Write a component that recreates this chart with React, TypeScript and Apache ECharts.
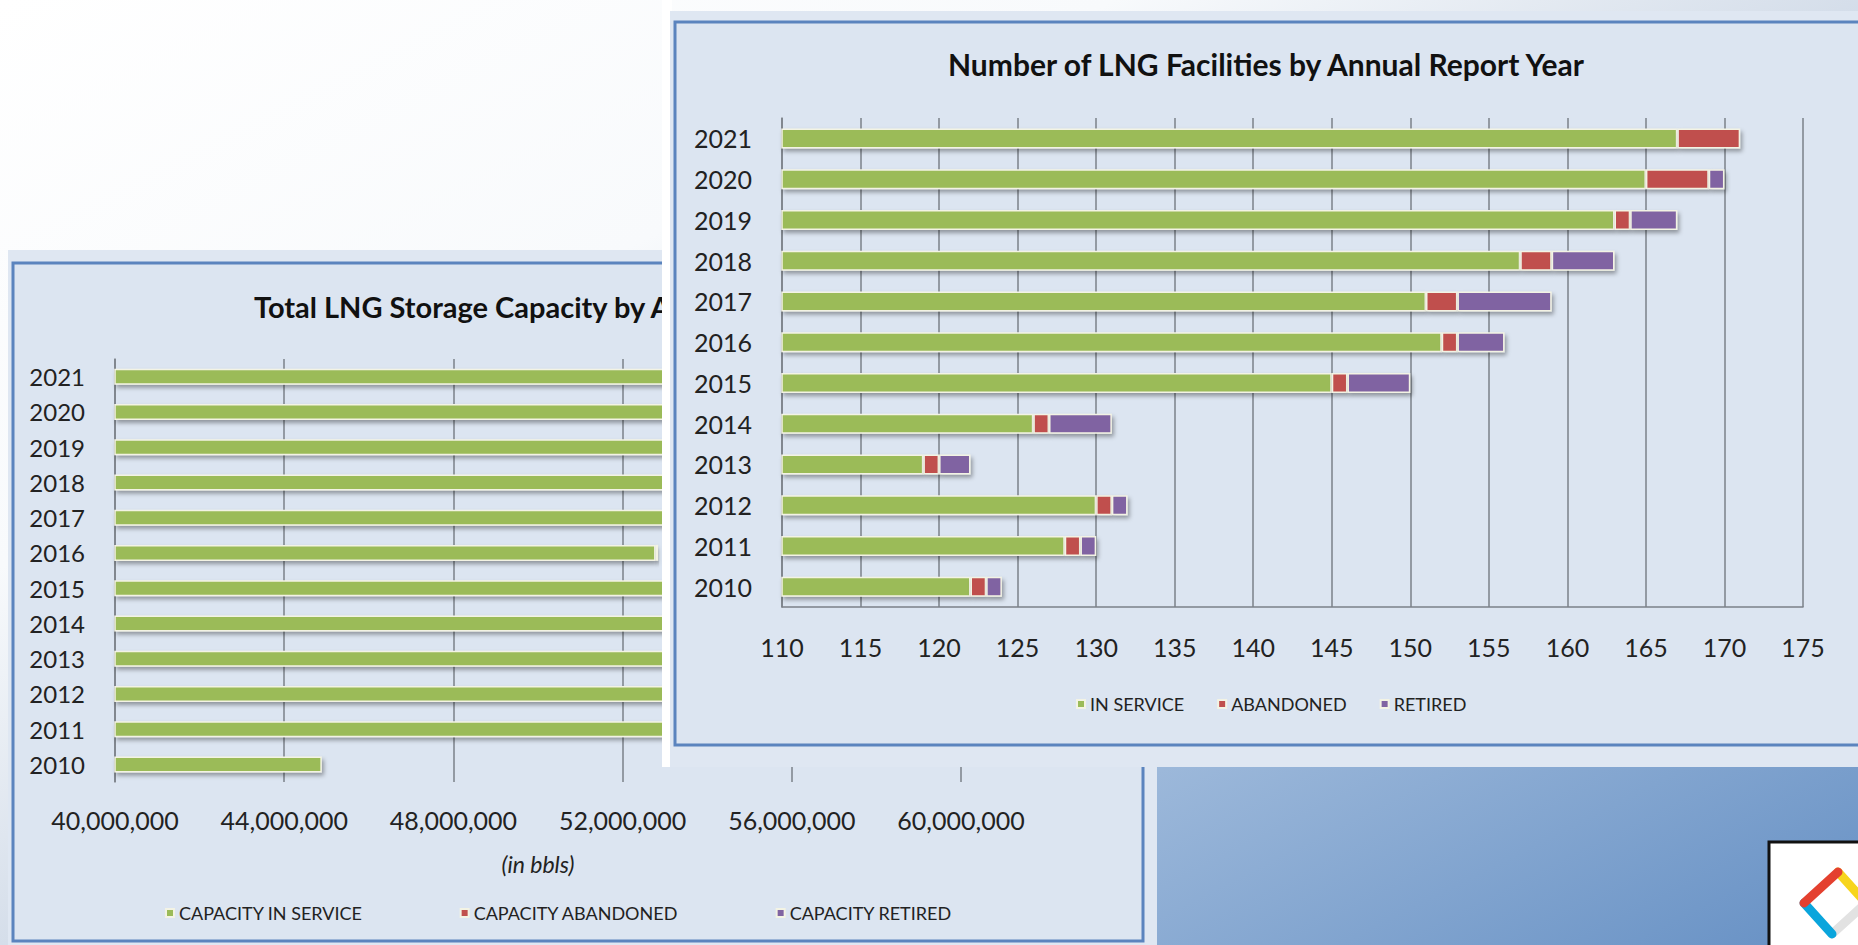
import React, { useEffect, useRef } from 'react';
import * as echarts from 'echarts';

// ---------- data ----------
const years = ['2010', '2011', '2012', '2013', '2014', '2015', '2016', '2017', '2018', '2019', '2020', '2021'];

// Right chart: Number of LNG Facilities by Annual Report Year
const facilityInService = [122, 128, 130, 119, 126, 145, 152, 151, 157, 163, 165, 167];
const facilityAbandoned = [1, 1, 1, 1, 1, 1, 1, 2, 2, 1, 4, 4];
const facilityRetired = [1, 1, 1, 2, 4, 4, 3, 6, 4, 3, 1, 0];
const facilityLegend = ['IN SERVICE', 'ABANDONED', 'RETIRED'];

// Left chart: Total LNG Storage Capacity (bbls) — bars past ~53M are hidden under the right chart (estimated)
const capacityInService = [44890000, 56100000, 56300000, 56250000, 56600000, 57100000, 52780000, 57800000, 58200000, 58600000, 59000000, 59300000];
const capacityAbandoned = [0, 150000, 150000, 150000, 150000, 150000, 0, 150000, 150000, 150000, 150000, 150000];
const capacityRetired = [0, 100000, 100000, 100000, 100000, 100000, 60000, 100000, 100000, 100000, 100000, 100000];
const capacityLegend = ['CAPACITY IN SERVICE', 'CAPACITY ABANDONED', 'CAPACITY RETIRED'];

const rightTitle = 'Number of LNG Facilities by Annual Report Year';
const leftTitle = 'Total LNG Storage Capacity by Annual Report Year';
const leftAxisName = '(in bbls)';

const W = 1858;
const H = 945;
const FONT = 'Lato, "Open Sans", sans-serif';
const GREEN = '#9bbb59';
const RED = '#c0504d';
const PURPLE = '#8064a2';
const PANEL = '#dce5f1';
const BORDER = '#5b84be';
const GRIDC = '#7b8088';
const TXT = '#222222';

const barStyle = (color: string) => ({
  color,
  borderColor: '#f3f3e4',
  borderWidth: 1.5,
  shadowColor: 'rgba(0,0,0,0.35)',
  shadowBlur: 4,
  shadowOffsetX: 2,
  shadowOffsetY: 3,
});

export default function App() {
  const ref = useRef<HTMLDivElement>(null);
  useEffect(() => {
    if (!ref.current) return;
    const chart = echarts.init(ref.current, undefined, { renderer: 'svg' });

    const graphics: any[] = [
      {
        type: 'rect', z: -100, silent: true,
        shape: { x: 0, y: 0, width: W, height: H },
        style: {
          fill: new echarts.graphic.LinearGradient(0, 0, 1, 1, [
            { offset: 0, color: '#ffffff' },
            { offset: 0.3, color: '#f8fafc' },
            { offset: 0.5, color: '#d5deea' },
            { offset: 0.72, color: '#9cb8da' },
            { offset: 1, color: '#6690c4' },
          ]),
        },
      },
      // left panel
      { type: 'rect', z: -90, silent: true, shape: { x: 8, y: 250, width: 1149, height: 700 }, style: { fill: '#dfe7f2' } },
      { type: 'rect', z: -89, silent: true, shape: { x: 13, y: 263, width: 1130, height: 678 }, style: { fill: PANEL, stroke: BORDER, lineWidth: 3 } },
      {
        type: 'text', z: -80, silent: true, x: 254, y: 306,
        style: {
          text: leftTitle, fill: '#111', fontSize: 29, fontWeight: 'bold', fontFamily: FONT,
          align: 'left', verticalAlign: 'middle', width: 430, overflow: 'truncate', ellipsis: '',
        },
      },
      // right panel (covers the left chart)
      { type: 'rect', z: 50, silent: true, shape: { x: 662, y: 0, width: 10, height: 767 }, style: { fill: '#ffffff' } },
      { type: 'rect', z: 50, silent: true, shape: { x: 670, y: 11, width: 1188, height: 756 }, style: { fill: '#dfe7f2' } },
      { type: 'rect', z: 51, silent: true, shape: { x: 675, y: 22, width: 1200, height: 723 }, style: { fill: PANEL, stroke: BORDER, lineWidth: 3 } },
      {
        type: 'text', z: 60, silent: true, x: 1266, y: 64,
        style: { text: rightTitle, fill: '#111', fontSize: 30, fontWeight: 'bold', fontFamily: FONT, align: 'center', verticalAlign: 'middle' },
      },
      // logo box
      { type: 'rect', z: 52, silent: true, shape: { x: 1769, y: 842, width: 100, height: 110 }, style: { fill: '#ffffff', stroke: '#111111', lineWidth: 3 } },
      { type: 'line', z: 53, silent: true, shape: { x1: 1832, y1: 934, x2: 1866, y2: 903 }, style: { stroke: '#e2e2e2', lineWidth: 9, lineCap: 'round' } },
      { type: 'line', z: 53, silent: true, shape: { x1: 1838, y1: 872, x2: 1866, y2: 903 }, style: { stroke: '#f7d51d', lineWidth: 9, lineCap: 'round' } },
      { type: 'line', z: 54, silent: true, shape: { x1: 1804, y1: 903, x2: 1832, y2: 934 }, style: { stroke: '#0aa5dc', lineWidth: 9, lineCap: 'round' } },
      { type: 'line', z: 55, silent: true, shape: { x1: 1804, y1: 903, x2: 1838, y2: 872 }, style: { stroke: '#e4402f', lineWidth: 9, lineCap: 'round' } },
    ];

    const axisLabel = (size: number, margin: number, fmt?: (v: number) => string) => ({
      fontSize: size, color: TXT, fontFamily: FONT, margin, formatter: fmt,
    });

    chart.setOption({
      animation: false,
      backgroundColor: 'transparent',
      graphic: { elements: graphics },
      grid: [
        { left: 115, top: 359, width: 846, height: 423, z: 0 },
        { left: 782, top: 118, width: 1021, height: 489, z: 60 },
      ],
      legend: [
        {
          data: capacityLegend, left: 160, top: 899, z: 4,
          icon: 'rect', itemWidth: 8, itemHeight: 8, itemGap: 97,
          textStyle: { fontSize: 18, color: TXT, fontFamily: FONT },
        },
        {
          data: facilityLegend, left: 1071, top: 690, z: 60,
          icon: 'rect', itemWidth: 8, itemHeight: 8, itemGap: 33,
          textStyle: { fontSize: 18, color: TXT, fontFamily: FONT },
        },
      ],
      xAxis: [
        {
          type: 'value', gridIndex: 0, min: 40000000, max: 60000000, interval: 4000000, z: 0,
          name: leftAxisName, nameLocation: 'middle', nameGap: 70,
          nameTextStyle: { fontSize: 23, fontStyle: 'italic', color: TXT, fontFamily: FONT },
          axisLine: { show: false }, axisTick: { show: false },
          splitLine: { show: true, lineStyle: { color: GRIDC, width: 1.5 } },
          axisLabel: axisLabel(25, 25, (v: number) => v.toLocaleString('en-US')),
        },
        {
          type: 'value', gridIndex: 1, min: 110, max: 175, interval: 5, z: 60,
          axisLine: { show: true, lineStyle: { color: GRIDC, width: 1.5 } }, axisTick: { show: false },
          splitLine: { show: true, lineStyle: { color: GRIDC, width: 1.5 } },
          axisLabel: axisLabel(25, 27),
        },
      ],
      yAxis: [
        {
          type: 'category', gridIndex: 0, data: years, z: 0,
          axisLine: { show: true, lineStyle: { color: GRIDC, width: 1.5 } }, axisTick: { show: false },
          axisLabel: axisLabel(24, 30),
        },
        {
          type: 'category', gridIndex: 1, data: years, z: 60,
          axisLine: { show: true, lineStyle: { color: GRIDC, width: 1.5 } }, axisTick: { show: false },
          axisLabel: axisLabel(25, 30),
        },
      ],
      series: [
        { name: capacityLegend[0], type: 'bar', stack: 'cap', xAxisIndex: 0, yAxisIndex: 0, barWidth: 16, z: 2, data: capacityInService, itemStyle: barStyle(GREEN) },
        { name: capacityLegend[1], type: 'bar', stack: 'cap', xAxisIndex: 0, yAxisIndex: 0, barWidth: 16, z: 2, data: capacityAbandoned, itemStyle: barStyle(RED) },
        { name: capacityLegend[2], type: 'bar', stack: 'cap', xAxisIndex: 0, yAxisIndex: 0, barWidth: 16, z: 2, data: capacityRetired, itemStyle: barStyle(PURPLE) },
        { name: facilityLegend[0], type: 'bar', stack: 'fac', xAxisIndex: 1, yAxisIndex: 1, barWidth: 20, z: 61, data: facilityInService, itemStyle: barStyle(GREEN) },
        { name: facilityLegend[1], type: 'bar', stack: 'fac', xAxisIndex: 1, yAxisIndex: 1, barWidth: 20, z: 61, data: facilityAbandoned, itemStyle: barStyle(RED) },
        { name: facilityLegend[2], type: 'bar', stack: 'fac', xAxisIndex: 1, yAxisIndex: 1, barWidth: 20, z: 61, data: facilityRetired, itemStyle: barStyle(PURPLE) },
      ],
    });
    return () => chart.dispose();
  }, []);

  return (
    <div
      ref={ref}
      style={{ position: 'absolute', left: 0, top: 0, width: W, height: H }}
    />
  );
}
